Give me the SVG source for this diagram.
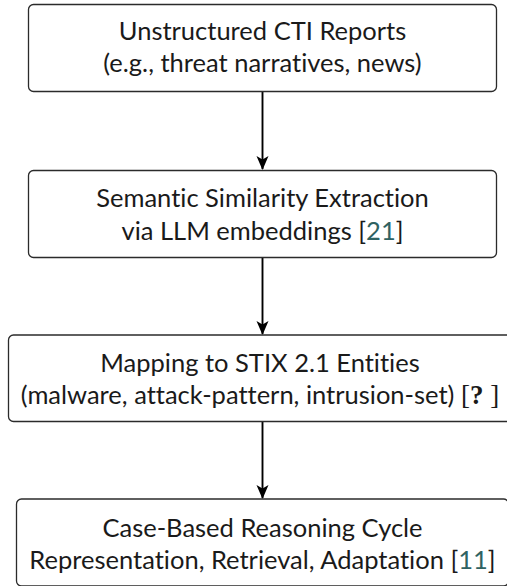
<svg xmlns="http://www.w3.org/2000/svg" width="507" height="586" viewBox="0 0 507 586">
<style>
.box{fill:#fff;stroke:#2b2b2b;stroke-width:1.3}
.t{font-family:Lato,"Open Sans","Liberation Sans",sans-serif;font-size:25.5px;fill:#1a1a1a;text-anchor:middle;font-variant-ligatures:none}
.cite{fill:#2f6262}
.q{font-family:"Liberation Serif",serif;font-size:27px;fill:#1a1a1a}
.edge{stroke:#000;stroke-width:1.9;fill:none}
</style>
<defs>
<marker id="ah" viewBox="0 0 14 14" refX="13" refY="7" markerWidth="14" markerHeight="14" markerUnits="userSpaceOnUse" orient="auto">
<path d="M0,1 L14,7 L0,13 L3.5,7 Z" fill="#000"/>
</marker>
</defs>
<rect width="507" height="586" fill="#fff"/>
<g id="connectors">
<line class="edge" x1="262.5" y1="91.5" x2="262.5" y2="169" marker-end="url(#ah)"/>
<line class="edge" x1="262.5" y1="258" x2="262.5" y2="334" marker-end="url(#ah)"/>
<line class="edge" x1="262.5" y1="421.5" x2="262.5" y2="498" marker-end="url(#ah)"/>
</g>
<g id="n1">
<rect class="box" x="28.5" y="4.5" width="468" height="87" rx="5"/>
<text class="t" x="262.5" y="40">Unstructured CTI Reports</text>
<text class="t" x="262.5" y="72">(e.g., threat narratives, news)</text>
</g>
<g id="n2">
<rect class="box" x="28.5" y="170.5" width="468" height="87" rx="5"/>
<text class="t" x="262.5" y="207">Semantic Similarity Extraction</text>
<text class="t" x="262.5" y="240">via LLM embeddings [<tspan class="cite">21</tspan>]</text>
</g>
<g id="n3">
<rect class="box" x="8.5" y="335" width="508" height="86.5" rx="5"/>
<text class="t" x="260" y="372">Mapping to STIX 2.1 Entities</text>
<text class="t" x="260" y="404">(malware, attack-pattern, intrusion-set) <tspan class="q">[<tspan font-weight="bold">?</tspan> ]</tspan></text>
</g>
<g id="n4">
<rect class="box" x="16.5" y="499" width="492" height="87" rx="5"/>
<text class="t" x="262.5" y="537">Case-Based Reasoning Cycle</text>
<text class="t" x="262.5" y="569">Representation, Retrieval, Adaptation [<tspan class="cite">11</tspan>]</text>
</g>
</svg>
